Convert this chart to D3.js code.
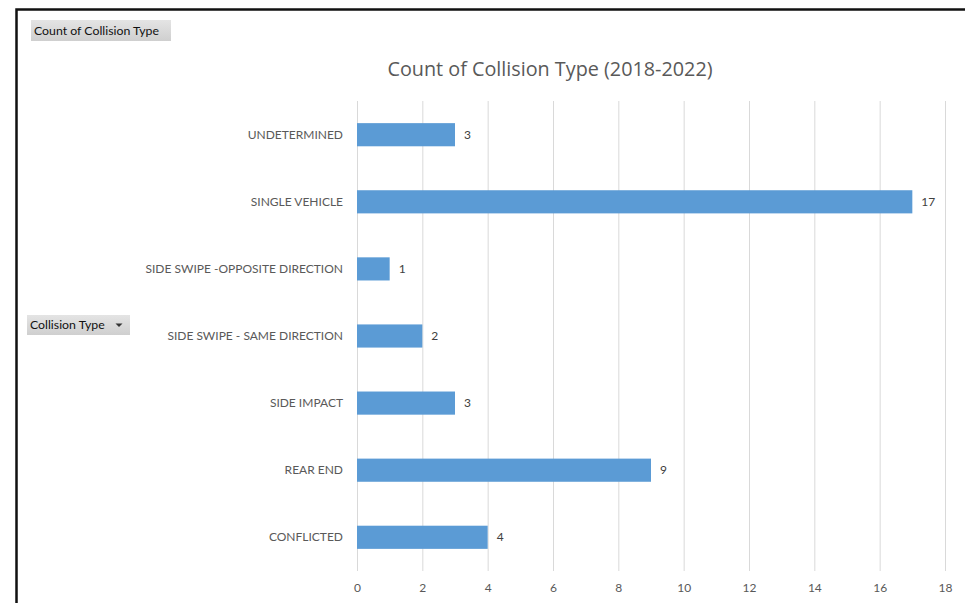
<!DOCTYPE html>
<html>
<head>
<meta charset="utf-8">
<script src="https://cdn.jsdelivr.net/npm/d3@7"></script>
<style>
  body { margin: 0; background: #fff; }
  svg { display: block; }
</style>
</head>
<body>
<div id="chart"></div>
<script>
// data, top to bottom as drawn
var categories = ['UNDETERMINED', 'SINGLE VEHICLE', 'SIDE SWIPE -OPPOSITE DIRECTION',
  'SIDE SWIPE - SAME DIRECTION', 'SIDE IMPACT', 'REAR END', 'CONFLICTED']
var counts = [3, 17, 1, 2, 3, 9, 4]
var xTicks = [0, 2, 4, 6, 8, 10, 12, 14, 16, 18]
var title = 'Count of Collision Type (2018-2022)'

var width = 965
var height = 603
var margin = { top: 101, right: 20, bottom: 32, left: 357 }
var plotBottom = height - margin.bottom

var data = categories.map((c, i) => ({ cat: c, val: counts[i] }))

var svg = d3.select('#chart')
  .append('svg')
  .attr('width', width)
  .attr('height', height)

// frame (left + top edges of the sheet area)
svg.append('path')
  .attr('d', `M16.5,${height} V9.5 H${width}`)
  .style('fill', 'none')
  .style('stroke', '#111')
  .style('stroke-width', 2.5)

var xScale = d3.scaleLinear()
  .domain([0, 18])
  .range([margin.left, 945])

var yScale = d3.scaleBand()
  .domain(categories)
  .range([margin.top, plotBottom])
  .paddingInner(0.655)
  .paddingOuter(0.33)

// grid
var xGrid = d3.axisBottom(xScale)
  .tickValues(xTicks)
  .tickSize(-(plotBottom - margin.top))
  .tickFormat('')

svg.append('g')
  .attr('class', 'grid')
  .attr('transform', `translate(0,${plotBottom})`)
  .call(xGrid)
  .call(g => g.select('.domain').remove())
  .selectAll('line')
  .style('stroke', '#d9d9d9')
  .style('stroke-width', 1)

// x labels
var xAxis = d3.axisBottom(xScale)
  .tickValues(xTicks)
  .tickSize(0)
  .tickPadding(12)

svg.append('g')
  .attr('transform', `translate(0,${plotBottom})`)
  .call(xAxis)
  .call(g => g.select('.domain').remove())
  .selectAll('text')
  .style('font-family', 'Lato, "Open Sans", sans-serif')
  .style('font-size', '12px')
  .style('fill', '#595959')

// y labels
var yAxis = d3.axisLeft(yScale)
  .tickSize(0)
  .tickPadding(14)

svg.append('g')
  .attr('transform', `translate(${margin.left},0)`)
  .call(yAxis)
  .call(g => g.select('.domain').remove())
  .selectAll('text')
  .style('font-family', 'Lato, "Open Sans", sans-serif')
  .style('font-size', '12px')
  .style('fill', '#595959')

// bars
svg.append('g')
  .selectAll('rect')
  .data(data)
  .join('rect')
  .attr('x', xScale(0))
  .attr('y', d => yScale(d.cat))
  .attr('width', d => xScale(d.val) - xScale(0))
  .attr('height', yScale.bandwidth())
  .style('fill', '#5b9bd5')

// value labels
svg.append('g')
  .selectAll('text')
  .data(data)
  .join('text')
  .attr('x', d => xScale(d.val) + 9)
  .attr('y', d => yScale(d.cat) + yScale.bandwidth() / 2)
  .attr('dy', '0.35em')
  .text(d => d.val)
  .style('font-family', 'Lato, "Open Sans", sans-serif')
  .style('font-size', '12px')
  .style('fill', '#404040')

// title
svg.append('text')
  .attr('x', 550)
  .attr('y', 76)
  .attr('text-anchor', 'middle')
  .text(title)
  .style('font-family', '"Open Sans", sans-serif')
  .style('font-size', '19.8px')
  .style('fill', '#595959')

// pivot field buttons
var grad = svg.append('defs').append('linearGradient')
  .attr('id', 'btn')
  .attr('x1', 0).attr('y1', 0).attr('x2', 0).attr('y2', 1)
grad.append('stop').attr('offset', '0%').attr('stop-color', '#e4e4e4')
grad.append('stop').attr('offset', '100%').attr('stop-color', '#cfcfcf')

function button(x, y, w, h, label, arrow) {
  svg.append('rect')
    .attr('x', x).attr('y', y)
    .attr('width', w).attr('height', h)
    .style('fill', 'url(#btn)')
  svg.append('text')
    .attr('x', x + 3)
    .attr('y', y + h / 2)
    .attr('dy', '0.35em')
    .text(label)
    .style('font-family', 'Lato, sans-serif')
    .style('font-size', '12.3px')
    .style('fill', '#111')
  if (arrow) {
    var ax = x + w - 11, ay = y + h / 2
    svg.append('path')
      .attr('d', `M${ax - 3.5},${ay - 1.5} L${ax + 3.5},${ay - 1.5} L${ax},${ay + 2} Z`)
      .style('fill', '#333')
  }
}

button(31, 20, 140, 21, 'Count of Collision Type', false)
button(27, 315, 103, 20, 'Collision Type', true)
</script>
</body>
</html>
